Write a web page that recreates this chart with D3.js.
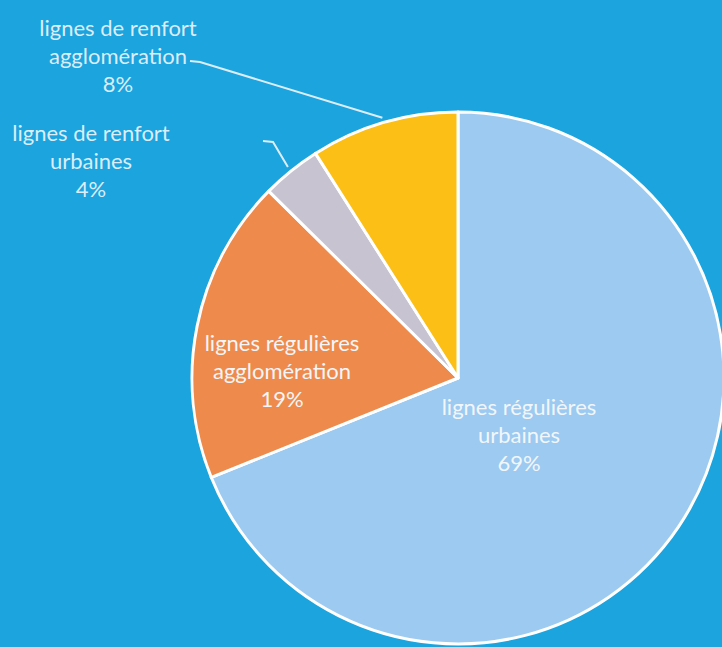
<!DOCTYPE html>
<html>
<head>
<meta charset="utf-8">
<script src="https://cdn.jsdelivr.net/npm/d3@7"></script>
<style>
  html, body { margin: 0; padding: 0; background: #1ba4de; overflow: hidden; }
  text { font-family: Lato, "Open Sans", sans-serif; }
</style>
</head>
<body>
<script>
// Data (clockwise from 12 o'clock)
let categories = ["lignes régulières urbaines", "lignes régulières agglomération",
                  "lignes de renfort urbaines", "lignes de renfort agglomération"];
let shares = [68.9, 18.5, 3.6, 9.0];
let pctLabels = ["69%", "19%", "4%", "8%"];
let labelLines = [["lignes régulières", "urbaines"],
                  ["lignes régulières", "agglomération"],
                  ["lignes de renfort", "urbaines"],
                  ["lignes de renfort", "agglomération"]];
let colors = ["#9ccaf1", "#ef8a4d", "#c7c3d0", "#fcbf15"];

let w = 722, h = 647;
let cx = 458, cy = 378, r = 266;

let svg = d3.select("body").append("svg")
            .attr("width", w)
            .attr("height", h);

svg.append("rect").attr("width", w).attr("height", h).attr("fill", "#1ba4de");

let pie = d3.pie().sort(null).value(d => d);
let arcs = pie(shares);
let arc = d3.arc().innerRadius(0).outerRadius(r);

let g = svg.append("g").attr("transform", `translate(${cx},${cy})`);

g.selectAll("path")
    .data(arcs)
    .enter()
    .append("path")
    .attr("d", arc)
    .attr("fill", (d, i) => colors[i])
    .attr("stroke", "#ffffff")
    .attr("stroke-width", 3)
    .attr("stroke-linejoin", "round");

// point on a circle of radius rr at the middle angle of slice d
let polar = (a, rr) => [Math.sin(a) * rr, -Math.cos(a) * rr];
let mid = d => (d.startAngle + d.endAngle) / 2;

// label placement: x centre, baseline of first line
let labelPos = [
    { x: 519, y: 415, inside: true },
    { x: 282, y: 351, inside: true },
    { x: 91, y: 141, inside: false },
    { x: 118, y: 36, inside: false }
];
let lineH = 28;

arcs.forEach((d, i) => {
    let p = labelPos[i];
    let t = svg.append("text")
               .attr("text-anchor", "middle")
               .attr("font-size", 22)
               .attr("fill", p.inside ? "#f3f6f9" : "#dcedf8");
    labelLines[i].concat([pctLabels[i]]).forEach((s, k) => {
        t.append("tspan").attr("x", p.x).attr("y", p.y + k * lineH).text(s);
    });
});

// leader lines for the two small slices
let tip2 = polar(mid(arcs[2]), r + 5);
svg.append("polyline")
    .attr("points", [[263, 141], [273, 142], [cx + tip2[0], cy + tip2[1]]].map(p => p.join(",")).join(" "))
    .attr("fill", "none")
    .attr("stroke", "#dcedf8")
    .attr("stroke-width", 2);

let tip3 = polar(mid(arcs[3]), r + 5);
svg.append("polyline")
    .attr("points", [[190, 61], [200, 62], [cx + tip3[0], cy + tip3[1]]].map(p => p.join(",")).join(" "))
    .attr("fill", "none")
    .attr("stroke", "#dcedf8")
    .attr("stroke-width", 2);
</script>
</body>
</html>
